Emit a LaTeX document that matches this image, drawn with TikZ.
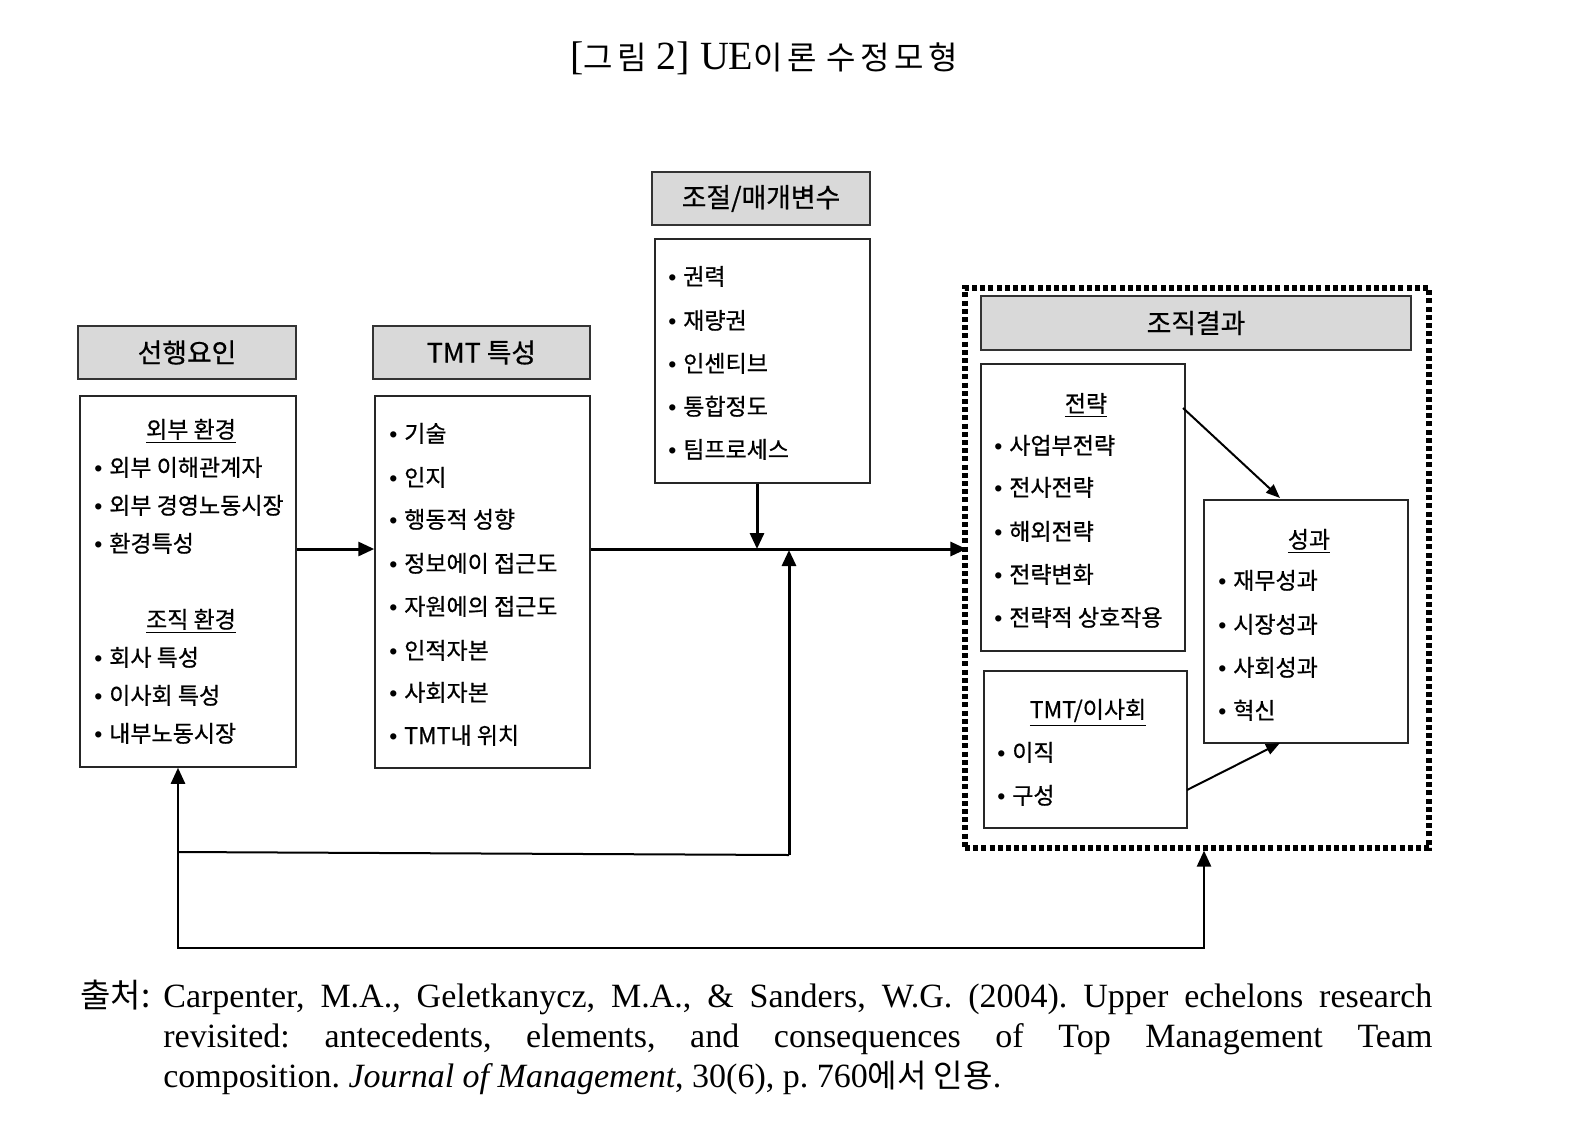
\documentclass[tikz,border=0pt]{standalone}
\usepackage{fontspec}
\setmainfont{Liberation Serif}
\newfontfamily\kr{Noto Sans CJK KR}
\newfontfamily\krb[FakeBold=0.6]{Noto Sans CJK KR}
\newfontfamily\krt[LetterSpace=14]{Noto Sans CJK KR}
\newfontfamily\lsans{Liberation Sans}
\usetikzlibrary{arrows.meta,fit,calc}
\newcommand\bul{{\lsans •}\hspace{3.4pt}}
\frenchspacing
\begin{document}
\begin{tikzpicture}[x=0.5pt,y=-0.5pt,
  hdr/.style={draw=black!80, line width=0.9pt, fill=black!15, inner sep=0pt},
  box/.style={draw=black!85, line width=0.75pt, fill=white, inner sep=0pt},
  hdrtext/.style={inner sep=0pt, font=\krb\fontsize{13.4}{15}\selectfont},
  item/.style={anchor=base west, inner sep=0pt, font=\krb\fontsize{11.5}{13}\selectfont},
  sub/.style={anchor=base, inner sep=0pt, font=\krb\fontsize{11.5}{13}\selectfont},
  flow/.style={line width=1.5pt, -{Triangle[length=8pt,width=7pt]}},
  flowthin/.style={line width=1pt, -{Triangle[length=7pt,width=5.5pt]}},
  dotbox/.style={draw=black, line width=2.6pt, dash pattern=on 2.5pt off 1.6pt, inner sep=0pt}
]
\useasboundingbox (0,0) rectangle (1580,1146);

% title
\node[anchor=base, inner sep=0pt, font=\fontsize{20}{24}\selectfont] (title) at (764,69)
  {[{\krt\fontsize{16}{18}\selectfont 그림} 2] UE{\krt\fontsize{16}{18}\selectfont 이론} {\krt\fontsize{16}{18}\selectfont 수정모형}};

% headers
\node[hdr, fit={(78,326)(296,379)}] (h1) {};
\node[hdrtext] (h1t) at (h1.center) {선행요인};
\node[hdr, fit={(373,326)(590,379)}] (h2) {};
\node[hdrtext] (h2t) at (h2.center) {TMT 특성};
\node[hdr, fit={(652,172)(870,225)}] (h3) {};
\node[hdrtext] (h3t) at (h3.center) {조절/매개변수};

% outer dotted box
\node[dotbox, fit={(965,288)(1429,848)}] (outer) {};
\node[hdr, fit={(981,296)(1411,350)}] (h4) {};
\node[hdrtext] (h4t) at (h4.center) {조직결과};

% left box
\node[box, fit={(80,396)(296,767)}] (left) {};
\node[sub] (l0) at (191,438) {\underline{외부 환경}};
\node[item] (l1) at (94,476) {\bul 외부 이해관계자};
\node[item] (l2) at (94,514) {\bul 외부 경영노동시장};
\node[item] (l3) at (94,552) {\bul 환경특성};
\node[sub] (l4) at (191,628) {\underline{조직 환경}};
\node[item] (l5) at (94,666) {\bul 회사 특성};
\node[item] (l6) at (94,704) {\bul 이사회 특성};
\node[item] (l7) at (94,742) {\bul 내부노동시장};

% TMT box
\node[box, fit={(375,396)(590,768)}] (tmt) {};
\node[item] (t1) at (389,442) {\bul 기술};
\node[item] (t2) at (389,486) {\bul 인지};
\node[item] (t3) at (389,528) {\bul 행동적 성향};
\node[item] (t4) at (389,572) {\bul 정보에이 접근도};
\node[item] (t5) at (389,615) {\bul 자원에의 접근도};
\node[item] (t6) at (389,659) {\bul 인적자본};
\node[item] (t7) at (389,701) {\bul 사회자본};
\node[item] (t8) at (389,744) {\bul TMT내 위치};

% moderator box
\node[box, fit={(655,239)(870,483)}] (mod) {};
\node[item] (m1) at (668,285) {\bul 권력};
\node[item] (m2) at (668,329) {\bul 재량권};
\node[item] (m3) at (668,372) {\bul 인센티브};
\node[item] (m4) at (668,415) {\bul 통합정도};
\node[item] (m5) at (668,458) {\bul 팀프로세스};

% strategy box
\node[box, fit={(981,364)(1185,651)}] (strat) {};
\node[sub] (s0) at (1086,412) {\underline{전략}};
\node[item] (s1) at (994,454) {\bul 사업부전략};
\node[item] (s2) at (994,496) {\bul 전사전략};
\node[item] (s3) at (994,540) {\bul 해외전략};
\node[item] (s4) at (994,583) {\bul 전략변화};
\node[item] (s5) at (994,626) {\bul 전략적 상호작용};

% TMT/board box
\node[box, fit={(984,671)(1187,828)}] (board) {};
\node[sub] (b0) at (1088,718) {\underline{TMT/이사회}};
\node[item] (b1) at (997,761) {\bul 이직};
\node[item] (b2) at (997,804) {\bul 구성};

% performance box
\node[box, fit={(1204,500)(1408,743)}] (perf) {};
\node[sub] (p0) at (1309,548) {\underline{성과}};
\node[item] (p1) at (1218,589) {\bul 재무성과};
\node[item] (p2) at (1218,633) {\bul 시장성과};
\node[item] (p3) at (1218,676) {\bul 사회성과};
\node[item] (p4) at (1218,719) {\bul 혁신};

% connectors
\coordinate (mid) at (757,549);
\coordinate (fbr) at (789,855);
\coordinate (fbl) at (178,852);
\coordinate (bl) at (178,948);
\coordinate (br) at (1204,948);
\coordinate (sa) at (1183,408);
\coordinate (pa) at (1280,498);
\coordinate (ba) at (1187,790);
\coordinate (pb) at (1280,743);

\draw[flow] (left.east |- mid) -- (tmt.west |- mid);
\draw[flow] (tmt.east |- mid) -- ($(outer.west |- mid)+(4,0)$);
\draw[flow] (mod.south -| mid) -- (mid);
\draw[line width=1pt] (fbl) -- (fbr);
\draw[flow] (fbr) -- ($(fbr |- mid)+(0,1)$);
\draw[line width=1.25pt, {Triangle[length=8pt,width=7pt]}-{Triangle[length=8pt,width=7pt]}]
  (left.south -| bl) -- (bl) -- (br) -- (outer.south -| br);
\draw[flowthin] (sa) -- (pa);
\draw[flowthin] (ba) -- (pb);

% source
\node[anchor=base west, inner sep=0pt, font=\kr\fontsize{16.5}{20}\selectfont] (src) at (80,1007) {출처:};
\node[anchor=base west, inner sep=0pt, text width=634.5pt, align=justify, font=\fontsize{17}{20}\selectfont] (ref) at (163,1007)
  {Carpenter, M.A., Geletkanycz, M.A., \& Sanders, W.G. (2004). Upper echelons research\linebreak revisited: antecedents, elements, and consequences of Top Management Team\linebreak composition. \textit{Journal of Management}, 30(6), p. 760{\kr\fontsize{16}{20}\selectfont 에서 인용}.};
\end{tikzpicture}
\end{document}
